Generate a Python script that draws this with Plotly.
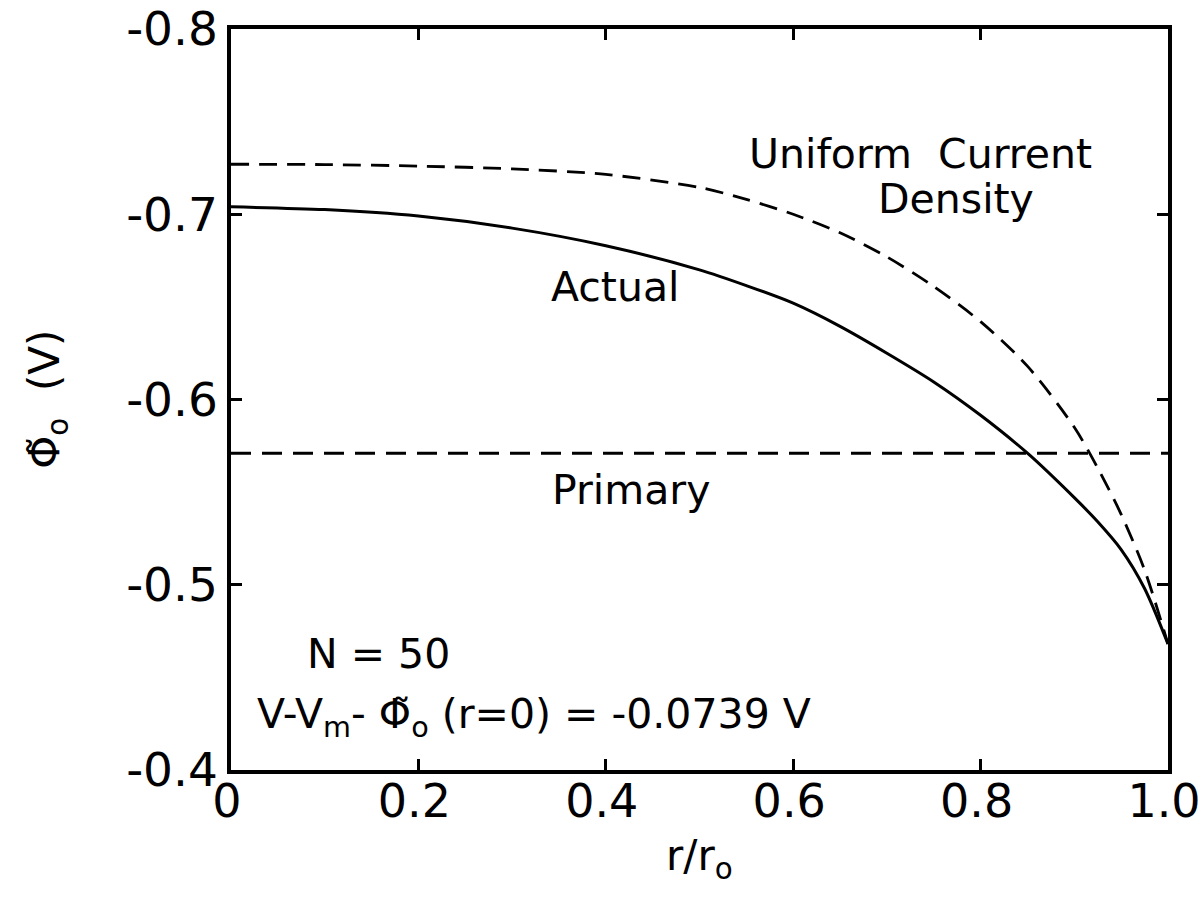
import plotly.graph_objects as go

# Data
r_vals = [0.0, 0.1, 0.2, 0.3, 0.4, 0.5, 0.55, 0.6, 0.65, 0.7, 0.75, 0.8, 0.85, 0.9,
          0.925, 0.95, 0.975, 1.0]
actual = [-0.704, -0.7025, -0.699, -0.6925, -0.683, -0.670, -0.6615, -0.652, -0.6395,
          -0.625, -0.6095, -0.5915, -0.571, -0.547, -0.534, -0.519, -0.498, -0.468]
uniform = [-0.727, -0.7268, -0.726, -0.7245, -0.7215, -0.7145, -0.708, -0.700, -0.690,
           -0.677, -0.661, -0.642, -0.618, -0.585, -0.563, -0.538, -0.508, -0.468]
primary_r = [0.0, 1.0]
primary = [-0.571, -0.571]

x_ticks = [0, 0.2, 0.4, 0.6, 0.8, 1.0]
x_ticktext = ["0", "0.2", "0.4", "0.6", "0.8", "1.0"]
y_ticks = [-0.8, -0.7, -0.6, -0.5, -0.4]
y_ticktext = ["-0.8", "-0.7", "-0.6", "-0.5", "-0.4"]

FONT = "DejaVu Sans"
fig = go.Figure()
fig.add_trace(go.Scatter(x=r_vals, y=uniform, mode="lines",
                         line=dict(color="black", width=2.8, dash="18px,10px",
                                   shape="spline", smoothing=0.8),
                         showlegend=False))
fig.add_trace(go.Scatter(x=r_vals, y=actual, mode="lines",
                         line=dict(color="black", width=3, shape="spline", smoothing=0.8),
                         showlegend=False))
fig.add_trace(go.Scatter(x=primary_r, y=primary, mode="lines",
                         line=dict(color="black", width=3, dash="20px,11px"),
                         showlegend=False))

ann_font = dict(family=FONT, size=41, color="black")
annotations = [
    dict(x=0.736, y=-0.7325, text="Uniform  Current", xanchor="center", yanchor="middle"),
    dict(x=0.774, y=-0.708, text="Density", xanchor="center", yanchor="middle"),
    dict(x=0.41, y=-0.661, text="Actual", xanchor="center", yanchor="middle"),
    dict(x=0.427, y=-0.551, text="Primary", xanchor="center", yanchor="middle"),
    dict(x=0.079, y=-0.4625, text="N = 50", xanchor="left", yanchor="middle"),
    dict(x=0.026, y=-0.4285, text="V-V<sub>m</sub>- \u03a6\u0303<sub>o</sub> (r=0) = -0.0739 V",
         xanchor="left", yanchor="middle"),
]
for a in annotations:
    fig.add_annotation(xref="x", yref="y", showarrow=False, font=ann_font, **a)

# y-axis title
fig.add_annotation(xref="paper", yref="paper", x=-0.196, y=0.50, xanchor="center", yanchor="middle",
                   text="\u03a6\u0303<sub>o</sub>  (V)", textangle=-90, showarrow=False,
                   font=dict(family=FONT, size=42, color="black"))
# x-axis title
fig.add_annotation(xref="paper", yref="paper", x=0.5, y=-0.12, xanchor="center", yanchor="middle",
                   text="r/r<sub>o</sub>", showarrow=False,
                   font=dict(family=FONT, size=42, color="black"))

axis_common = dict(showline=True, linecolor="black", linewidth=3.5, mirror="ticks",
                   ticks="inside", ticklen=11, tickwidth=2.5, tickcolor="black",
                   showgrid=False, zeroline=False, ticklabeloverflow="allow",
                   automargin=False)
fig.update_xaxes(range=[0, 1], tickvals=x_ticks, ticktext=x_ticktext,
                 ticklabelstandoff=-12, ticklabelshift=-4,
                 tickfont=dict(family=FONT, size=46, color="black"), **axis_common)
fig.update_yaxes(range=[-0.4, -0.8], tickvals=y_ticks, ticktext=y_ticktext,
                 tickfont=dict(family=FONT, size=47, color="black"), **axis_common)

fig.update_layout(width=1203, height=903, plot_bgcolor="white", paper_bgcolor="white",
                  margin=dict(l=231, r=35, t=29, b=133), showlegend=False)

fig.write_html("out.html")
